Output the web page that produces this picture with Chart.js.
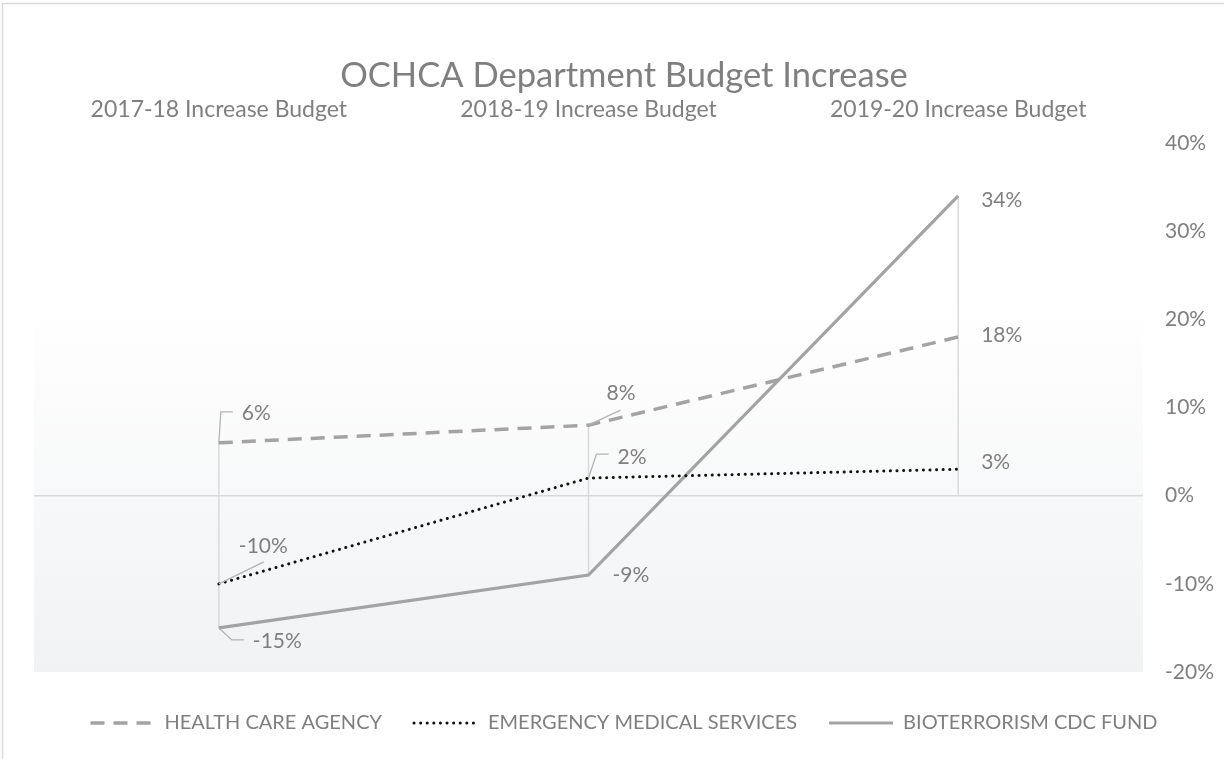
<!DOCTYPE html>
<html>
<head>
<meta charset="utf-8">
<title>OCHCA Department Budget Increase</title>
<script src="https://cdn.jsdelivr.net/npm/chart.js@4.4.1/dist/chart.umd.min.js"></script>
<style>
  html, body { margin: 0; padding: 0; background: #fff; }
  #wrap { width: 1224px; height: 759px; position: relative; }
</style>
</head>
<body>
<div id="wrap"><canvas id="budgetChart"></canvas></div>
<script>
// values (percent)
var categories = ["2017-18 Increase Budget", "2018-19 Increase Budget", "2019-20 Increase Budget"];
var healthCareAgency = [6, 8, 18];
var emergencyMedical = [-10, 2, 3];
var bioterrorismFund = [-15, -9, 34];
var seriesNames = ["HEALTH CARE AGENCY", "EMERGENCY MEDICAL SERVICES", "BIOTERRORISM CDC FUND"];
var yTicks = [-20, -10, 0, 10, 20, 30, 40];

var FONT = "Lato, 'Open Sans', sans-serif";
var GREY_TEXT = '#7f7f7f';

// where each data label sits, relative to its point (px), plus optional leader line
var labelSpots = [
    [{ dx: 23, dy: -30, leader: [[2, -31], [14, -31]] }, { dx: 18, dy: -32, leader: [[32, -15]] }, { dx: 23, dy: -2 }],
    [{ dx: 20, dy: -38, leader: [[45, -22]] }, { dx: 29, dy: -21, leader: [[8, -24], [20, -24]] }, { dx: 23, dy: -7 }],
    [{ dx: 34, dy: 13, leader: [[13, 12], [25, 12]] }, { dx: 24, dy: 0 }, { dx: 23, dy: 4 }]
];

var plotBackground = {
    id: 'plotBackground',
    beforeDraw: function(chart) {
        var ctx = chart.ctx, a = chart.chartArea;
        ctx.save();
        ctx.fillStyle = '#ffffff';
        ctx.fillRect(0, 0, chart.width, chart.height);
        var g = ctx.createLinearGradient(0, a.top, 0, a.bottom);
        g.addColorStop(0, '#ffffff');
        g.addColorStop(0.3, '#ffffff');
        g.addColorStop(1, '#f1f2f4');
        ctx.fillStyle = g;
        ctx.fillRect(a.left, a.top, a.right - a.left, a.bottom - a.top);
        ctx.restore();
    },
    afterDraw: function(chart) {
        var ctx = chart.ctx;
        ctx.save();
        ctx.strokeStyle = '#d9d9d9';
        ctx.lineWidth = 1.5;
        ctx.strokeRect(2.5, 3.5, chart.width + 4, chart.height + 4);
        ctx.restore();
    }
};

// vertical drop lines from each point down (or up) to the 0% line
var dropLines = {
    id: 'dropLines',
    beforeDatasetsDraw: function(chart) {
        var ctx = chart.ctx, x = chart.scales.x, y = chart.scales.y;
        var all = [healthCareAgency, emergencyMedical, bioterrorismFund];
        ctx.save();
        ctx.strokeStyle = '#d9d9d9';
        ctx.lineWidth = 1.5;
        for (var j = 0; j < categories.length; j++) {
            var hi = 0, lo = 0;
            all.forEach(function(s) { hi = Math.max(hi, s[j]); lo = Math.min(lo, s[j]); });
            var px = x.getPixelForValue(j);
            ctx.beginPath();
            ctx.moveTo(px, y.getPixelForValue(hi));
            ctx.lineTo(px, y.getPixelForValue(lo));
            ctx.stroke();
        }
        ctx.restore();
    }
};

var dataLabels = {
    id: 'dataLabels',
    afterDatasetsDraw: function(chart) {
        var ctx = chart.ctx;
        ctx.save();
        ctx.font = '21px ' + FONT;
        ctx.textAlign = 'left';
        ctx.textBaseline = 'middle';
        chart.data.datasets.forEach(function(ds, i) {
            var meta = chart.getDatasetMeta(i);
            meta.data.forEach(function(pt, j) {
                var spot = labelSpots[i][j];
                if (spot.leader) {
                    ctx.strokeStyle = '#b3b3b3';
                    ctx.lineWidth = 1.3;
                    ctx.setLineDash([]);
                    ctx.beginPath();
                    ctx.moveTo(pt.x, pt.y);
                    spot.leader.forEach(function(p) { ctx.lineTo(pt.x + p[0], pt.y + p[1]); });
                    ctx.stroke();
                }
                ctx.fillStyle = GREY_TEXT;
                ctx.fillText(ds.data[j] + '%', pt.x + spot.dx, pt.y + spot.dy);
            });
        });
        ctx.restore();
    }
};

var budgetChart = new Chart(document.getElementById('budgetChart'), {
    type: 'line',
    data: {
        labels: categories,
        datasets: [{
            label: seriesNames[0],
            data: healthCareAgency,
            xAxisID: 'x',
            borderColor: '#a3a3a3',
            backgroundColor: 'transparent',
            borderWidth: 3.5,
            borderDash: [14, 9],
            pointRadius: 0,
            tension: 0
        }, {
            label: seriesNames[1],
            data: emergencyMedical,
            xAxisID: 'x',
            borderColor: '#111111',
            backgroundColor: 'transparent',
            borderWidth: 3,
            borderDash: [0.1, 6.5],
            borderCapStyle: 'round',
            pointRadius: 0,
            tension: 0
        }, {
            label: seriesNames[2],
            data: bioterrorismFund,
            xAxisID: 'x',
            borderColor: '#a3a3a3',
            backgroundColor: 'transparent',
            borderWidth: 3.2,
            pointRadius: 0,
            tension: 0
        }]
    },
    options: {
        responsive: true,
        maintainAspectRatio: false,
        animation: false,
        devicePixelRatio: 1,
        layout: {
            padding: { left: 34, right: 10, top: 0, bottom: 16 }
        },
        plugins: {
            title: {
                display: true,
                text: 'OCHCA Department Budget Increase',
                color: GREY_TEXT,
                font: { family: FONT, size: 34.5, weight: 'normal' },
                padding: { top: 55, bottom: 0 }
            },
            legend: {
                position: 'bottom',
                labels: {
                    usePointStyle: true,
                    pointStyle: 'line',
                    pointStyleWidth: 64,
                    padding: 32,
                    color: GREY_TEXT,
                    font: { family: FONT, size: 20 },
                    generateLabels: function(chart) {
                        var items = Chart.defaults.plugins.legend.labels.generateLabels(chart);
                        items.forEach(function(it) {
                            var ds = chart.data.datasets[it.datasetIndex];
                            it.lineDash = ds.borderDash || [];
                            it.lineWidth = ds.borderWidth;
                            it.lineCap = ds.borderCapStyle || 'butt';
                            it.strokeStyle = ds.borderColor;
                        });
                        return items;
                    }
                }
            },
            tooltip: { enabled: false }
        },
        scales: {
            x: {
                position: 'top',
                offset: true,
                grid: { display: false, drawTicks: false },
                border: { display: false },
                ticks: {
                    color: GREY_TEXT,
                    font: { family: FONT, size: 23 },
                    padding: 20,
                    maxRotation: 0,
                    autoSkip: false
                },
                afterFit: function(scale) { scale.height = 46.7; }
            },
            gap: {
                type: 'category',
                position: 'bottom',
                grid: { display: false, drawTicks: false },
                border: { display: false },
                ticks: { display: false },
                afterFit: function(scale) { scale.height = 9; }
            },
            y: {
                position: 'right',
                min: -20,
                max: 40,
                afterBuildTicks: function(scale) {
                    scale.ticks = yTicks.map(function(v) { return { value: v }; });
                },
                grid: {
                    drawTicks: false,
                    lineWidth: 1.5,
                    color: function(c) { return c.tick && c.tick.value === 0 ? '#d9d9d9' : 'rgba(0,0,0,0)'; }
                },
                border: { display: false },
                ticks: {
                    color: GREY_TEXT,
                    font: { family: FONT, size: 21 },
                    padding: 22,
                    callback: function(v) { return v + '%'; }
                },
                afterFit: function(scale) { scale.width = 71; }
            }
        }
    },
    plugins: [plotBackground, dropLines, dataLabels]
});
</script>
</body>
</html>
